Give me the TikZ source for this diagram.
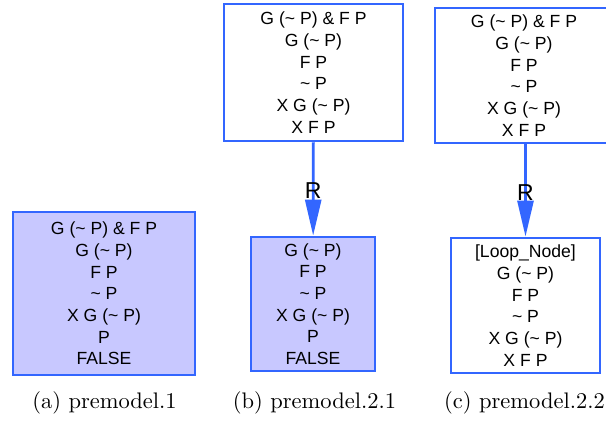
\documentclass[tikz,border=0pt]{standalone}
\usepackage{fontspec}
\newfontfamily\boxfont{Liberation Sans}
\usetikzlibrary{arrows.meta, positioning}
\definecolor{lineblue}{RGB}{51,102,255}
\definecolor{fillblue}{RGB}{200,200,255}
\newcommand{\tld}{\textasciitilde}
\tikzset{
	statebox/.style={draw=lineblue, line width=2.8pt, align=center, inner sep=0pt,
		font=\boxfont\fontsize{17.6}{21.7}\selectfont}
}
\tikzset{
	falsebox/.style={statebox, fill=fillblue}
}
\tikzset{
	redge/.style={draw=lineblue, line width=2.8pt, -{Triangle[length=36pt,width=16pt]}}
}
\tikzset{
	rlabel/.style={font=\boxfont\fontsize{23}{26}\selectfont, yshift=-2pt}
}
\tikzset{
	capt/.style={font=\fontsize{10}{12}\selectfont, anchor=base, scale=2.25, transform shape}
}

\begin{document}
\begin{tikzpicture}[x=1pt, y=-1pt]
      \useasboundingbox (0,0) rectangle (606,422);
      % (a) premodel.1
      \node[falsebox, minimum width=182pt, minimum height=163pt] (a1) at (104,293.5)
        {G (\tld{} P) \& F P\\G (\tld{} P)\\F P\\\tld{} P\\X G (\tld{} P)\\P\\FALSE};
      % (b) premodel.2.1
      \node[statebox, minimum width=179pt, minimum height=137pt] (b1) at (313.5,72.5)
        {G (\tld{} P) \& F P\\G (\tld{} P)\\F P\\\tld{} P\\X G (\tld{} P)\\X F P};
      \node[falsebox, minimum width=124pt, minimum height=134pt] (b2) at (313,304)
        {G (\tld{} P)\\F P\\\tld{} P\\X G (\tld{} P)\\P\\FALSE};
      \draw[redge] (b1) -- node[rlabel] {R} (b2);
      % (c) premodel.2.2
      \node[statebox, minimum width=178pt, minimum height=135pt] (c1) at (524,75.5)
        {G (\tld{} P) \& F P\\G (\tld{} P)\\F P\\\tld{} P\\X G (\tld{} P)\\X F P};
      \node[statebox, minimum width=149pt, minimum height=135pt] (c2) at (525.5,305.5)
        {[Loop\_Node]\\G (\tld{} P)\\F P\\\tld{} P\\X G (\tld{} P)\\X F P};
      \draw[redge] (c1.south -| c2) -- node[rlabel] {R} (c2);
      % captions
      \node[capt] (capa) at (104.5,409) {(a) premodel.1};
      \node[capt] (capb) at (314.5,409) {(b) premodel.2.1};
      \node[capt] (capc) at (524.5,409) {(c) premodel.2.2};
    \end{tikzpicture}
\end{document}
